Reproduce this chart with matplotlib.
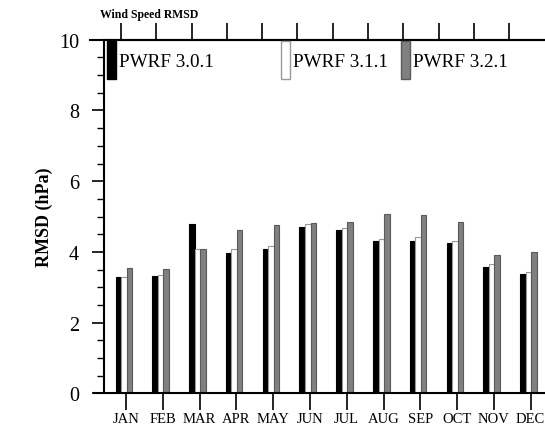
import numpy as np
import matplotlib.pyplot as plt
from matplotlib.patches import Patch
from matplotlib.legend import Legend

plt.rcParams['font.family'] = ['Liberation Serif', 'DejaVu Serif']

months = ['JAN', 'FEB', 'MAR', 'APR', 'MAY', 'JUN', 'JUL', 'AUG', 'SEP', 'OCT', 'NOV', 'DEC']
pwrf_301 = [3.28, 3.33, 4.80, 3.97, 4.07, 4.70, 4.62, 4.31, 4.31, 4.24, 3.58, 3.38]
pwrf_311 = [3.30, 3.35, 4.07, 4.08, 4.17, 4.78, 4.67, 4.37, 4.41, 4.32, 3.65, 3.42]
pwrf_321 = [3.56, 3.53, 4.07, 4.63, 4.75, 4.81, 4.84, 5.07, 5.04, 4.85, 3.92, 4.00]
labels = ['PWRF 3.0.1', 'PWRF 3.1.1', 'PWRF 3.2.1']

x = np.arange(len(months))
w = 0.15

fig = plt.figure(figsize=(5.45, 4.31), dpi=100)
ax = fig.add_axes([0.1908, 0.0847, 0.8092, 0.8209])

ax.bar(x - 0.21, pwrf_301, w, color='black', edgecolor='black', lw=0.8)
ax.bar(x - 0.06, pwrf_311, w, color='white', edgecolor='#999999', lw=0.8)
ax.bar(x + 0.09, pwrf_321, w, color='#808080', edgecolor='#5a5a5a', lw=0.8)

ax.set_xlim(-0.6, 11.39)
ax.set_ylim(0, 10)
ax.set_xticks(x)
ax.set_xticklabels(months, fontsize=10.5)
ax.set_yticks(np.arange(0, 11, 2))
ax.set_yticks(np.arange(0, 10.1, 0.5), minor=True)
ax.tick_params(axis='y', which='major', length=9, width=1.2, labelsize=14.5, pad=9)
ax.tick_params(axis='y', which='minor', length=5, width=1)
ax.tick_params(axis='x', length=12, width=1.2, pad=1.5)
ax.set_ylabel('RMSD (hPa)', fontsize=13, fontweight='bold', labelpad=4)

for s in ['left', 'bottom', 'top']:
    ax.spines[s].set_linewidth(1.5)
ax.spines['right'].set_visible(False)
ax.spines['bottom'].set_bounds(-0.87, 11.39)

# top ticks
ax2 = ax.twiny()
ax2.set_xlim(ax.get_xlim())
ax2.set_xticks(x * 0.96 - 0.14)
ax2.set_xticklabels([])
ax2.tick_params(axis='x', length=12, width=1.2)
ax2.spines['right'].set_visible(False)
ax2.spines['top'].set_linewidth(1.5)
ax2.spines['top'].set_bounds(-0.97, 11.39)
for s in ['left', 'bottom']:
    ax2.spines[s].set_visible(False)

cols = ['black', 'white', '#808080']
edges = ['black', '#999999', '#5a5a5a']
handles = [Patch(facecolor=c, edgecolor=e) for c, e in zip(cols, edges)]
anchors = [(0.005, 1.0), (0.4, 1.0), (0.6715, 1.0)]
for h, lab, anc in zip(handles, labels, anchors):
    leg = Legend(ax2, [h], [lab], loc='upper left', bbox_to_anchor=anc, frameon=False,
                 fontsize=13.8, handlelength=0.47, handleheight=2.7,
                 handletextpad=0.15, borderaxespad=0, borderpad=0.05)
    ax2.add_artist(leg)

fig.text(0.1835, 0.965, 'Wind Speed RMSD', fontsize=8.5, fontweight='bold', va='center')

fig.savefig('out.png', dpi=100)
